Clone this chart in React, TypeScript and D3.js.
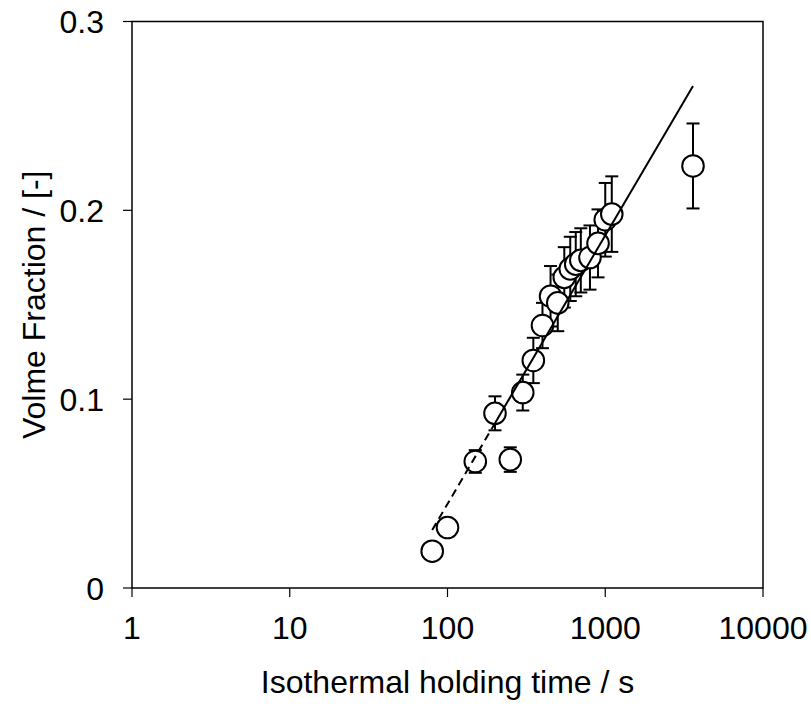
import React from "react";
import * as d3 from "d3";

const timeS = [80, 100, 150, 250, 200, 300, 350, 400, 450, 500, 550, 600, 650, 700, 800, 900, 1000, 1100, 3600];
const volFrac = [0.0195, 0.032, 0.067, 0.068, 0.0925, 0.1035, 0.1205, 0.139, 0.1545, 0.151, 0.1645, 0.169, 0.1715, 0.1735, 0.175, 0.1825, 0.195, 0.198, 0.2235];
const volErr = [0, 0, 0.006, 0.0065, 0.009, 0.0095, 0.012, 0.012, 0.016, 0.015, 0.016, 0.017, 0.017, 0.017, 0.017, 0.018, 0.0195, 0.02, 0.0225];

const dashedFitX = [80, 200];
const dashedFitY = [0.0307, 0.0873];
const solidFitX = [200, 3600];
const solidFitY = [0.0873, 0.2658];

const xTicks = [1, 10, 100, 1000, 10000];
const yTicks = [0, 0.1, 0.2, 0.3];

const W = 811;
const H = 707;
const left = 132;
const right = 763;
const top = 21.5;
const bottom = 588;
const FONT = "'Liberation Sans', Arial, sans-serif";

export default function App() {
  const x = d3.scaleLog().domain([1, 10000]).range([left, right]);
  const y = d3.scaleLinear().domain([0, 0.3]).range([bottom, top]);
  const line = d3
    .line<[number, number]>()
    .x((d) => x(d[0]))
    .y((d) => y(d[1]));
  const dashed = dashedFitX.map((v, i) => [v, dashedFitY[i]] as [number, number]);
  const solid = solidFitX.map((v, i) => [v, solidFitY[i]] as [number, number]);
  const cap = 6.5;

  return (
    <svg
      width={W}
      height={H}
      style={{ position: "absolute", left: 0, top: 0, background: "#fff" }}
      fontFamily={FONT}
    >
      <rect x={0} y={0} width={W} height={H} fill="#fff" />
      <rect x={left} y={top} width={right - left} height={bottom - top} fill="none" stroke="#000" strokeWidth={1.5} />
      {yTicks.map((t) => (
        <g key={"y" + t}>
          <line x1={left - 9} x2={left} y1={y(t)} y2={y(t)} stroke="#000" strokeWidth={1.2} />
          <text x={104} y={y(t)} dy="0.36em" textAnchor="end" fontSize={32}>
            {t === 0 ? "0" : d3.format(".1f")(t)}
          </text>
        </g>
      ))}
      {xTicks.map((t) => (
        <g key={"x" + t}>
          <line x1={x(t)} x2={x(t)} y1={bottom} y2={bottom + 9} stroke="#000" strokeWidth={1.2} />
          <text x={x(t)} y={639} textAnchor="middle" fontSize={32}>
            {String(t)}
          </text>
        </g>
      ))}
      {timeS.map((t, i) =>
        volErr[i] > 0 ? (
          <g key={"e" + i} stroke="#000" strokeWidth={2}>
            <line x1={x(t)} x2={x(t)} y1={y(volFrac[i] - volErr[i])} y2={y(volFrac[i] + volErr[i])} />
            <line x1={x(t) - cap} x2={x(t) + cap} y1={y(volFrac[i] + volErr[i])} y2={y(volFrac[i] + volErr[i])} />
            <line x1={x(t) - cap} x2={x(t) + cap} y1={y(volFrac[i] - volErr[i])} y2={y(volFrac[i] - volErr[i])} />
          </g>
        ) : null
      )}
      {timeS.map((t, i) => (
        <circle key={"c" + i} cx={x(t)} cy={y(volFrac[i])} r={10.8} fill="#fff" stroke="#000" strokeWidth={2} />
      ))}
      <path d={line(dashed) || ""} fill="none" stroke="#000" strokeWidth={2} strokeDasharray="8,5" />
      <path d={line(solid) || ""} fill="none" stroke="#000" strokeWidth={2} />
      <text x={(left + right) / 2} y={693} textAnchor="middle" fontSize={32}>
        Isothermal holding time / s
      </text>
      <text
        transform={`translate(45,${(top + bottom) / 2}) rotate(-90)`}
        textAnchor="middle"
        fontSize={32}
      >
        Volme Fraction / [-]
      </text>
    </svg>
  );
}
